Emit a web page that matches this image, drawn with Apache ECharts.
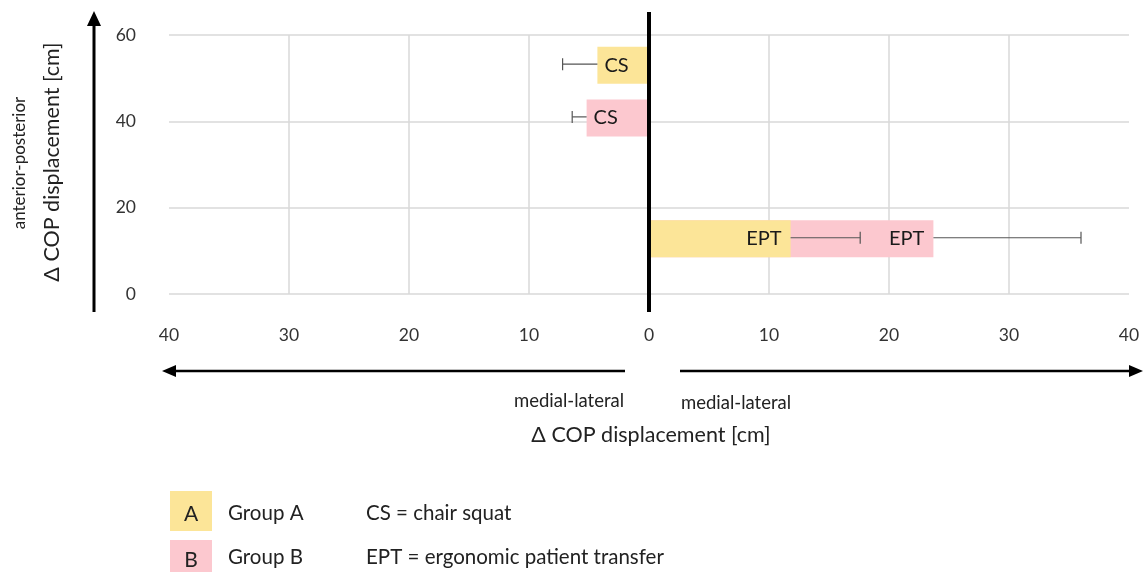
<!DOCTYPE html>
<html>
<head>
<meta charset="utf-8">
<script src="https://cdn.jsdelivr.net/npm/echarts@6/dist/echarts.min.js"></script>
<style>
html,body{margin:0;padding:0;background:#fff;}
#chart{width:1143px;height:572px;}
</style>
</head>
<body>
<div id="chart"></div>
<script>
// ---- data ----
const tasks = ['CS', 'CS', 'EPT', 'EPT'];
const groups = ['Group A', 'Group B', 'Group A', 'Group B'];
const mlValues = [-4.3, -5.2, 11.8, 23.7];   // medial-lateral displacement (cm)
const apValues = [53, 40.8, 12.8, 12.8];      // anterior-posterior displacement (cm)
const errValues = [2.9, 1.2, 5.8, 12.3];      // error (cm)
const xTicks = [-40, -30, -20, -10, 0, 10, 20, 30, 40];
const yTicks = [0, 20, 40, 60];
const groupNames = ['Group A', 'Group B'];
const groupLetters = ['A', 'B'];
const taskLegend = ['CS = chair squat', 'EPT = ergonomic patient transfer'];

const FONT = 'Lato';
const colors = { 'Group A': '#FCE598', 'Group B': '#FCC8CF' };

function seriesData(g) {
  const out = [];
  for (let i = 0; i < tasks.length; i++) {
    if (groups[i] === g) out.push([mlValues[i], apValues[i], errValues[i], tasks[i]]);
  }
  return out;
}

const seriesDataCache = {};
groupNames.forEach(g => seriesDataCache[g] = seriesData(g));

function renderItem(params, api) {
  const x = api.value(0), y = api.value(1), e = api.value(2);
  const task = seriesDataCache[params.seriesName][params.dataIndex][3];
  const p0 = api.coord([0, y]);
  const p1 = api.coord([x, y]);
  const sign = x < 0 ? -1 : 1;
  const pe = api.coord([x + sign * e, y]);
  const h = 37;
  const left = Math.min(p0[0], p1[0]);
  const w = Math.abs(p1[0] - p0[0]);
  const color = colors[params.seriesName];
  return {
    type: 'group',
    children: [
      { type: 'rect', shape: { x: left, y: p1[1] - h / 2, width: w, height: h }, style: { fill: color } },
      { type: 'line', shape: { x1: p1[0], y1: p1[1] - 1, x2: pe[0], y2: pe[1] - 1 }, style: { stroke: '#555', lineWidth: 1.2 } },
      { type: 'line', shape: { x1: pe[0], y1: pe[1] - 7, x2: pe[0], y2: pe[1] + 5 }, style: { stroke: '#555', lineWidth: 1.2 } },
      { type: 'text', style: {
          text: task, x: sign < 0 ? p1[0] + 7 : p1[0] - 9, y: p1[1],
          align: sign < 0 ? 'left' : 'right', verticalAlign: 'middle',
          fill: '#1a1a1a', font: '20px ' + FONT } }
    ]
  };
}

const chart = echarts.init(document.getElementById('chart'));
const option = {
  backgroundColor: '#fff',
  animation: false,
  grid: { left: 169, right: 14, top: 35, bottom: 278 },
  xAxis: {
    type: 'value', min: xTicks[0], max: xTicks[xTicks.length - 1], interval: 10,
    axisLine: { show: false }, axisTick: { show: false },
    axisLabel: { margin: 32, color: '#333', fontSize: 17.5, fontFamily: FONT, formatter: v => String(Math.abs(v)) },
    splitLine: { show: true, showMinLine: false, showMaxLine: false, lineStyle: { color: '#d9d9d9', width: 1.5 } }
  },
  yAxis: {
    type: 'value', min: yTicks[0], max: yTicks[yTicks.length - 1], interval: 20,
    axisLine: { show: false }, axisTick: { show: false },
    axisLabel: { margin: 33, color: '#333', fontSize: 17.5, fontFamily: FONT },
    splitLine: { show: true, lineStyle: { color: '#d9d9d9', width: 1.5 } }
  },
  series: ['Group B', 'Group A'].map(g => ({
    name: g, type: 'custom', renderItem: renderItem,
    data: seriesDataCache[g], encode: { x: 0, y: 1 }, z: 2
  }))
};
chart.setOption(option);

// annotations
const zeroTop = chart.convertToPixel({ gridIndex: 0 }, [0, yTicks[yTicks.length - 1]]);
const zeroBot = chart.convertToPixel({ gridIndex: 0 }, [0, yTicks[0]]);
const zx = zeroTop[0];
function txt(text, x, y, size, align, rot) {
  return {
    type: 'text', x: x, y: y, z: 10, rotation: rot || 0,
    style: { text: text, fill: '#222', font: size + 'px ' + FONT, align: align || 'center', verticalAlign: 'middle' }
  };
}

const graphics = [
  // zero line (thick)
  { type: 'line', z: 20, shape: { x1: zx, y1: zeroTop[1] - 23, x2: zx, y2: zeroBot[1] + 18 }, style: { stroke: '#000', lineWidth: 4 } },
  // y arrow
  { type: 'line', z: 20, shape: { x1: 94, y1: 312, x2: 94, y2: 24 }, style: { stroke: '#000', lineWidth: 3 } },
  { type: 'polygon', z: 20, shape: { points: [[94, 11], [87, 26], [101, 26]] }, style: { fill: '#000' } },
  // left arrow
  { type: 'line', z: 20, shape: { x1: 625, y1: 371, x2: 174, y2: 371 }, style: { stroke: '#000', lineWidth: 2.5 } },
  { type: 'polygon', z: 20, shape: { points: [[162, 371], [176, 365], [176, 377]] }, style: { fill: '#000' } },
  // right arrow
  { type: 'line', z: 20, shape: { x1: 680, y1: 371, x2: 1131, y2: 371 }, style: { stroke: '#000', lineWidth: 2.5 } },
  { type: 'polygon', z: 20, shape: { points: [[1143, 371], [1129, 365], [1129, 377]] }, style: { fill: '#000' } },
  txt('medial-lateral', 569, 401, 18.5),
  txt('medial-lateral', 736, 403, 18.5),
  txt('\u0394 COP displacement [cm]', 651, 435, 21.5),
  txt('anterior-posterior', 20, 163, 17, 'center', Math.PI / 2),
  txt('\u0394 COP displacement [cm]', 52, 162, 21.5, 'center', Math.PI / 2),
  // legend
  { type: 'rect', shape: { x: 170, y: 491, width: 42, height: 40 }, style: { fill: colors['Group A'] } },
  { type: 'rect', shape: { x: 170, y: 540, width: 42, height: 40 }, style: { fill: colors['Group B'] } },
  txt(groupLetters[0], 191, 514, 21),
  txt(groupLetters[1], 191, 560, 21),
  txt(groupNames[0], 228, 513, 20.5, 'left'),
  txt(groupNames[1], 228, 557, 20.5, 'left'),
  txt(taskLegend[0], 366, 513, 20.5, 'left'),
  txt(taskLegend[1], 366, 557, 20.5, 'left')
];
chart.setOption({ graphic: graphics });
</script>
</body>
</html>
